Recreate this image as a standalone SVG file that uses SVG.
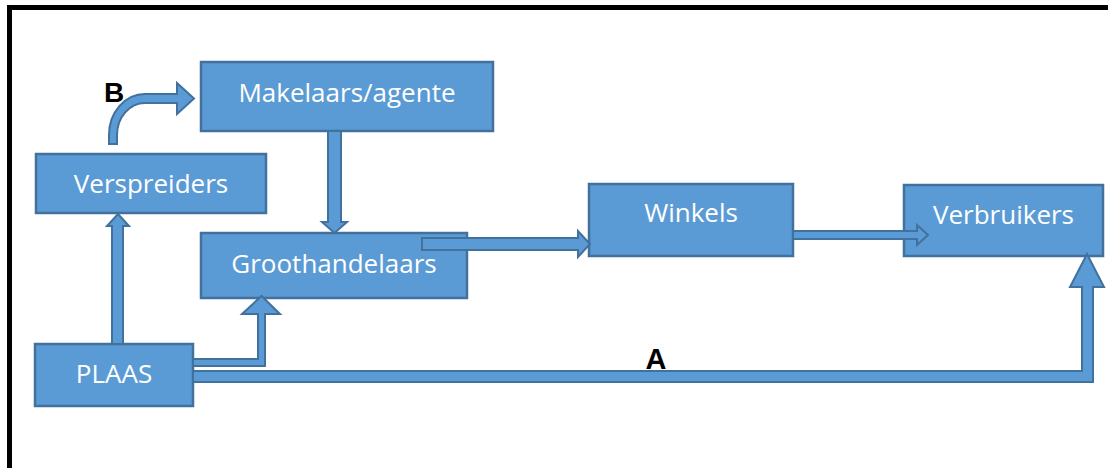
<svg xmlns="http://www.w3.org/2000/svg" width="1108" height="468" viewBox="0 0 1108 468">
<style>
.box{fill:#5B9BD5;stroke:#41719C;stroke-width:2.5}
.lbl{fill:#FFFFFF;font-family:"Open Sans","Noto Sans",sans-serif;font-size:26px;text-anchor:middle}
.arr{fill:#5B9BD5;stroke:#41719C;stroke-width:2;stroke-linejoin:miter}
.let{fill:#000000;font-family:"Liberation Sans",Arial,sans-serif;font-weight:bold;text-anchor:middle}
</style>
<rect width="1108" height="468" fill="#FFFFFF"/>
<path d="M9.5,468 L9.5,7.5 L1108,7.5" fill="none" stroke="#000000" stroke-width="5"/>
<g id="node-makelaars"><rect class="box" x="201" y="62" width="292" height="69"/><text class="lbl" x="347" y="102">Makelaars/agente</text></g>
<g id="node-verspreiders"><rect class="box" x="36" y="154" width="230" height="59"/><text class="lbl" x="151" y="193">Verspreiders</text></g>
<g id="node-groothandelaars"><rect class="box" x="201" y="233" width="266" height="65"/><text class="lbl" x="334" y="273">Groothandelaars</text></g>
<g id="node-winkels"><rect class="box" x="589" y="184" width="204" height="72"/><text class="lbl" x="691" y="222">Winkels</text></g>
<g id="node-verbruikers"><rect class="box" x="904" y="185" width="199" height="71"/><text class="lbl" x="1003.5" y="224">Verbruikers</text></g>
<g id="node-plaas"><rect class="box" x="35" y="344" width="158" height="62"/><text class="lbl" x="114" y="383">PLAAS</text></g>
<g id="connectors">
<polygon class="arr" points="328,131 341,131 341,222 347,222 334.5,233 322,222 328,222"/>
<polygon class="arr" points="422,238 578,238 578,231 590,244 578,257 578,250 422,250"/>
<polygon class="arr" points="793,231 917,231 917,225 928,235 917,245 917,239 793,239"/>
<polygon class="arr" points="112,344 112,226 107,226 118,214 129,226 123,226 123,344"/>
<polygon class="arr" points="193,359 258,359 258,314 242,314 261.5,296 280,314 265,314 265,366 193,366"/>
<polygon class="arr" points="193,371 1082,371 1082,287 1070,287 1087,254 1104,287 1093,287 1093,382 193,382"/>
<path class="arr" d="M109,144 L109,135 A36,41 0 0 1 145,94 L177,94 L177,83 L194,98.5 L177,114 L177,103 L145,103 A28,32 0 0 0 117,135 L117,144 Z"/>
<text class="let" x="114" y="102" font-size="28">B</text>
<text class="let" x="656" y="369" font-size="29">A</text>
</g>
</svg>
